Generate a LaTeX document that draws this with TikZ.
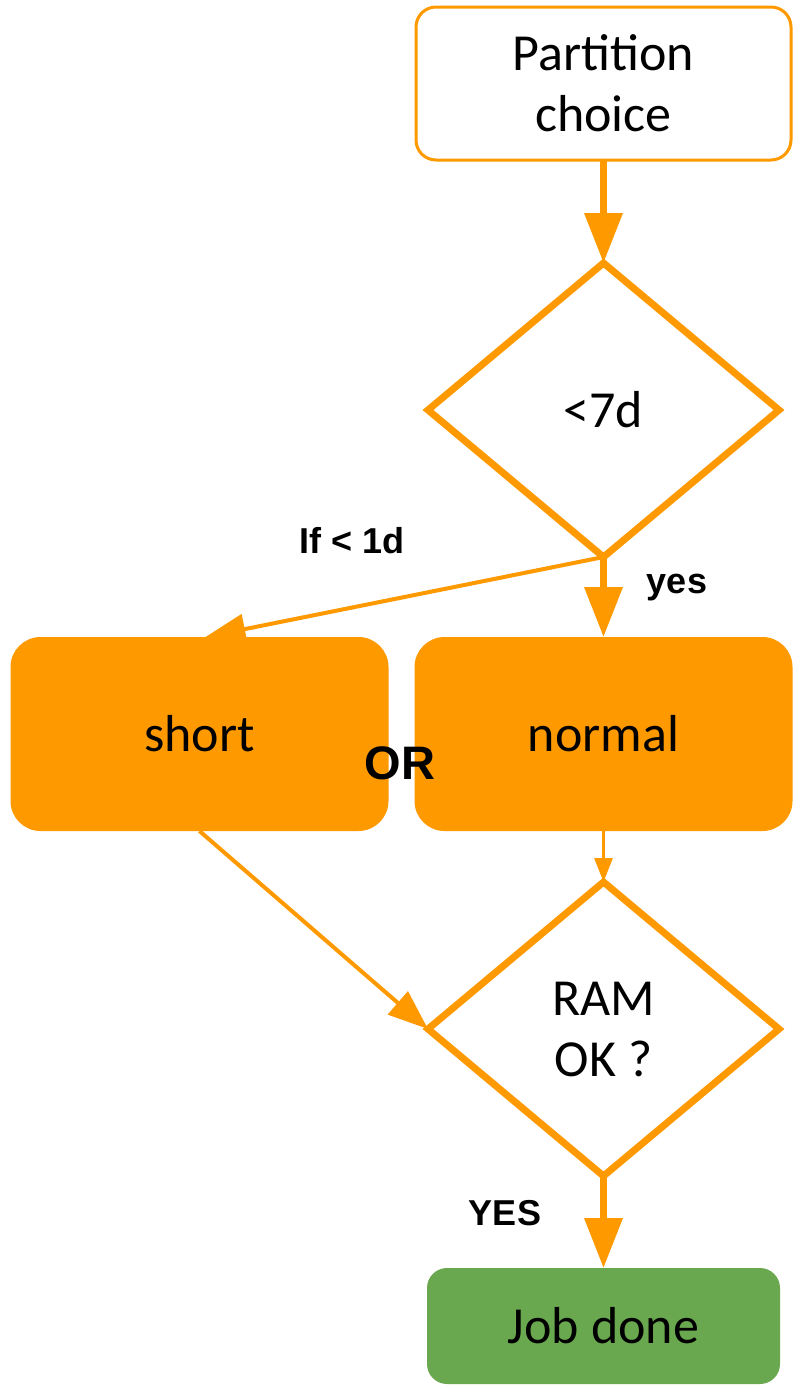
\documentclass[tikz,border=0pt]{standalone}
\usepackage{fontspec}
\setmainfont{Carlito}
\newfontfamily\labelfont{Liberation Sans}
\usepackage{xcolor}
\usepackage{tikz}
\usetikzlibrary{shapes.geometric,
								arrows.meta,
								positioning}
\definecolor{partorange}{RGB}{255,153,0}
\definecolor{donegreen}{RGB}{106,168,79}

\tikzset{
  boxtext/.style={font=\fontsize{52}{61}\selectfont, text=black, align=center, outer sep=0pt, inner sep=0pt},
  startbox/.style={boxtext, draw=partorange, line width=3pt, fill=white, rounded corners=20pt, minimum width=375pt, minimum height=153pt},
  queuebox/.style={boxtext, fill=partorange, rounded corners=30pt, minimum width=378pt, minimum height=194pt},
  testbox/.style={boxtext, diamond, draw=partorange, line width=7pt, fill=white, minimum width=351pt, minimum height=294pt},
  endbox/.style={boxtext, fill=donegreen, rounded corners=20pt, minimum width=353pt, minimum height=116pt},
  boldlabel/.style={font=\labelfont\bfseries\fontsize{36}{40}\selectfont, text=black, inner sep=0pt},
  bigflow/.style={draw=partorange, line width=7pt, -{Triangle[width=37pt,length=50pt]}},
  midflow/.style={draw=partorange, line width=4pt, -{Triangle[width=30pt,length=40pt]}},
  thinflow/.style={draw=partorange, line width=3pt, -{Triangle[width=18pt,length=24pt]}}
}

\begin{document}
\begin{tikzpicture}[x=1pt, y=-1pt]
  \useasboundingbox (0,0) rectangle (794,1385);

  % boxes
  \node[startbox] (choice) at (603.5,83.5) {Partition\\choice};
  \node[testbox, below=103pt of choice] (lt7) {<7d};
  \node[queuebox, below=80pt of lt7] (normal) {normal};
  \node[queuebox, left=26pt of normal] (short) {short};
  \node[testbox, below=51pt of normal] (ram) {RAM\\OK ?};
  \node[endbox, below=92pt of ram] (done) {Job done};

  % flow
  \draw[bigflow] (choice.south) -- (lt7.north);
  \draw[bigflow] (lt7.south) -- (normal.north);
  \draw[midflow] (lt7.south) -- ([xshift=6pt]short.north);
  \draw[midflow] (short.south) -- (ram.west);
  \draw[thinflow] (normal.south) -- (ram.north);
  \draw[bigflow] (ram.south) -- (done.north);

  % labels
  \node[boldlabel] (ifless) at (352,541) {If < 1d};
  \node[boldlabel] (yeslab) at (677,588) {yes};
  \node[boldlabel, font=\labelfont\bfseries\fontsize{47}{50}\selectfont] (orlab) at (400,763) {OR};
  \node[boldlabel] (yesend) at (505,1213) {YES};
\end{tikzpicture}
\end{document}
